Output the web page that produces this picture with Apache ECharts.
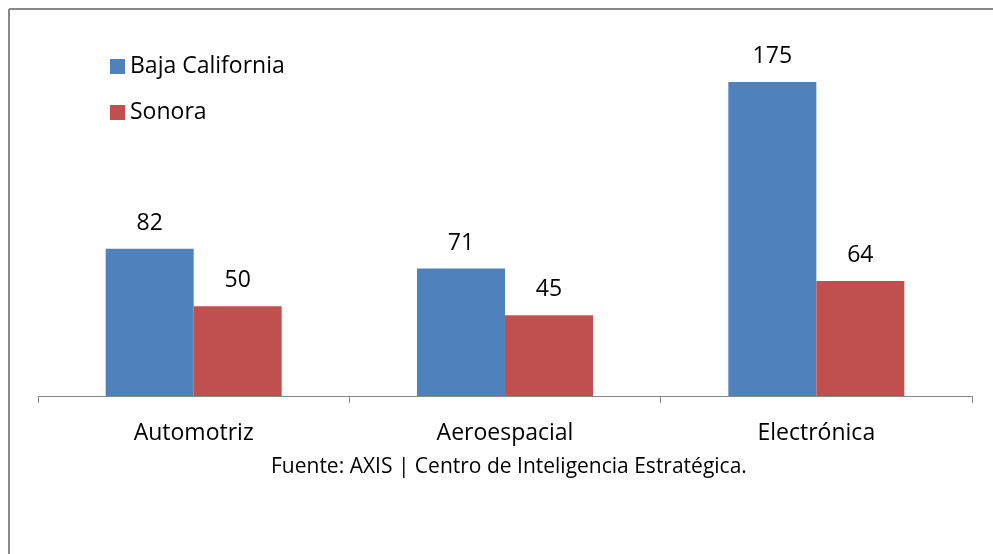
<!DOCTYPE html>
<html>
<head>
<meta charset="utf-8">
<script src="https://cdn.jsdelivr.net/npm/echarts@6/dist/echarts.min.js"></script>
<style>
  html, body { margin: 0; padding: 0; background: #fff; }
  #chart { width: 993px; height: 554px; }
</style>
</head>
<body>
<div id="chart"></div>
<script>
const categories = ['Automotriz', 'Aeroespacial', 'Electrónica'];
const bajaCalifornia = [82, 71, 175];
const sonora = [50, 45, 64];
const seriesNames = ['Baja California', 'Sonora'];
const source = 'Fuente: AXIS | Centro de Inteligencia Estratégica.';

const font = 'Open Sans';

const chart = echarts.init(document.getElementById('chart'));
chart.setOption({
  animation: false,
  backgroundColor: '#fff',
  color: ['#4f81bd', '#c0504d'],
  grid: {left: 38, right: 21, top: 37, bottom: 158},
  legend: {
    orient: 'vertical',
    left: 105,
    top: 50,
    itemWidth: 15,
    itemHeight: 15,
    itemGap: 23,
    icon: 'rect',
    textStyle: {fontFamily: font, fontSize: 23, color: '#000'},
    data: seriesNames
  },
  graphic: [
    {type: 'line', shape: {x1: 9, y1: 9, x2: 993, y2: 9}, style: {stroke: '#898989', lineWidth: 2}},
    {type: 'line', shape: {x1: 9, y1: 9, x2: 9, y2: 554}, style: {stroke: '#898989', lineWidth: 2}},
    {
      type: 'text', left: 271, top: 457,
      style: {text: source, fontFamily: font, fontSize: 21, fill: '#000'}
    }
  ],
  xAxis: {
    type: 'category',
    data: categories,
    axisLine: {lineStyle: {color: '#898989', width: 1}},
    axisTick: {show: true, length: 7, lineStyle: {color: '#898989'}},
    axisLabel: {fontFamily: font, fontSize: 23, color: '#000', margin: 26}
  },
  yAxis: {
    type: 'value',
    min: 0,
    max: 200,
    show: false,
    splitLine: {show: false}
  },
  series: [
    {
      name: seriesNames[0],
      type: 'bar',
      data: bajaCalifornia,
      barWidth: 88,
      barGap: '0%',
      label: {show: true, position: 'top', distance: 14, fontFamily: font, fontSize: 23, color: '#000'}
    },
    {
      name: seriesNames[1],
      type: 'bar',
      data: sonora,
      barWidth: 88,
      barGap: '0%',
      label: {show: true, position: 'top', distance: 14, fontFamily: font, fontSize: 23, color: '#000'}
    }
  ]
});
</script>
</body>
</html>
